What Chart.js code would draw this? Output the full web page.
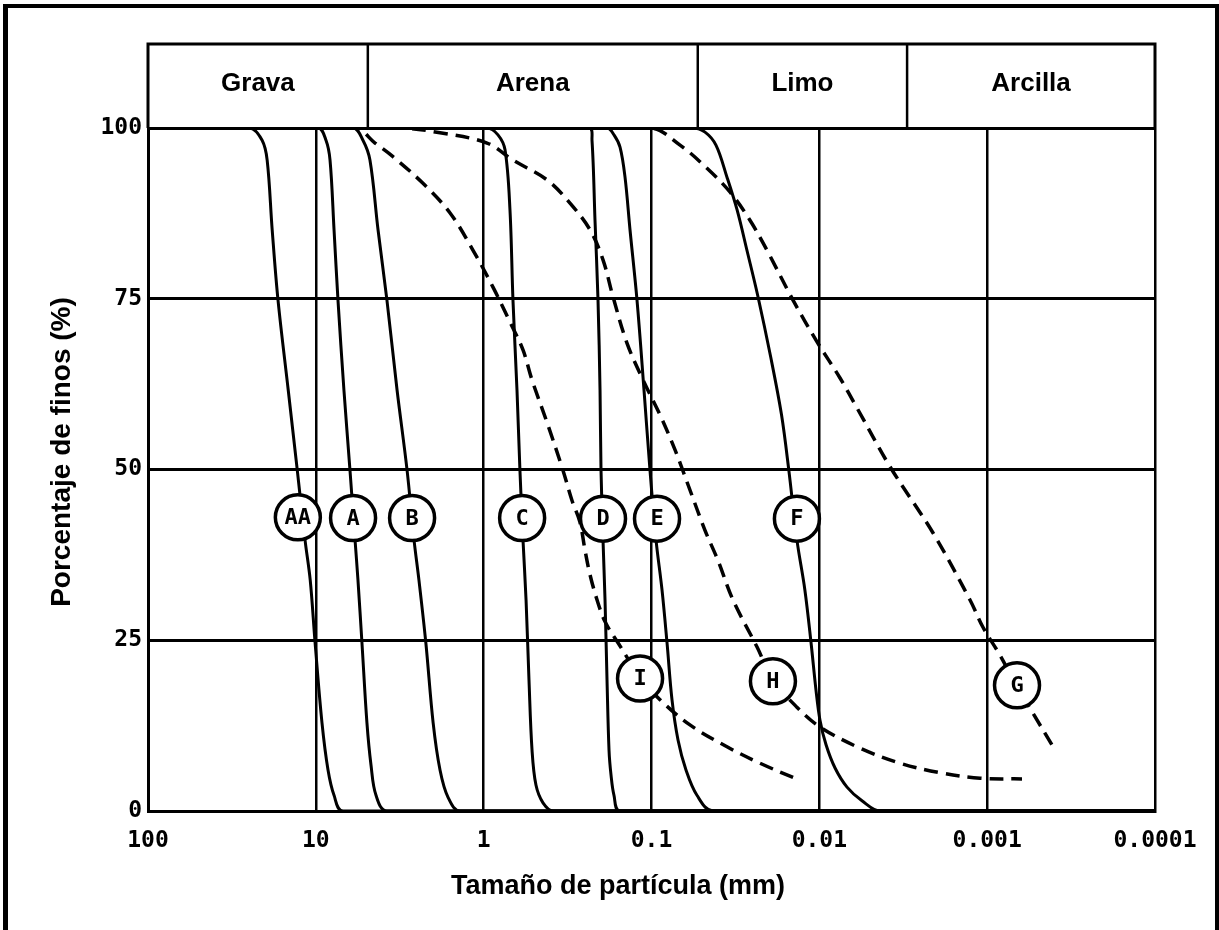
<!DOCTYPE html>
<html>
<head>
<meta charset="utf-8">
<script src="https://cdn.jsdelivr.net/npm/chart.js@4.4.1/dist/chart.umd.min.js"></script>
<style>
  html, body { margin: 0; padding: 0; background: #fff; }
  #wrap { position: relative; width: 1219px; height: 930px; }
</style>
</head>
<body>
<div id="wrap"><canvas id="chart" width="1219" height="930"></canvas></div>
<script>
// axis ticks
const xTicks = [100, 10, 1, 0.1, 0.01, 0.001, 0.0001];
const xTickLabels = ['100', '10', '1', '0.1', '0.01', '0.001', '0.0001'];
const yTicks = [0, 25, 50, 75, 100];

// soil classes across the top (limits in mm)
const bandNames = ['Grava', 'Arena', 'Limo', 'Arcilla'];
const bandLimits = [100, 4.9, 0.053, 0.003, 0.0001];

// grading curves: particle size (mm) and percent passing
const sizeAA = [100, 24.7, 20.9, 19.5, 18.2, 16.8, 14.6, 12.9, 11.6, 10.8, 10.1, 9.19, 8.46, 7.79, 6.89, 0.0001];
const pctAA  = [100, 100, 98.2, 95.3, 85.1, 74.8, 61.6, 49.9, 39.7, 33.8, 24.6, 12.9, 6.0, 2.3, 0, 0];

const sizeA = [100, 9.71, 8.70, 8.23, 7.79, 7.38, 6.80, 6.26, 5.84, 5.61, 5.31, 4.96, 4.69, 4.38, 3.77, 0.0001];
const pctA  = [100, 100, 98.2, 95.3, 85.1, 74.8, 61.6, 49.9, 39.7, 33.8, 24.6, 12.9, 6.7, 2.3, 0, 0];

const sizeB = [100, 6.00, 5.24, 4.76, 4.26, 3.77, 3.28, 2.86, 2.60, 2.43, 2.21, 2.00, 1.82, 1.63, 1.38, 0.0001];
const pctB  = [100, 100, 98.2, 95.3, 85.1, 74.8, 61.6, 49.9, 39.7, 33.8, 24.6, 12.9, 6.0, 2.0, 0, 0];

const sizeC = [100, 0.955, 0.822, 0.746, 0.697, 0.669, 0.633, 0.608, 0.583, 0.559, 0.537, 0.515, 0.488, 0.443, 0.386, 0.0001];
const pctC  = [100, 100, 99.0, 96.8, 88.0, 74.8, 61.6, 49.9, 39.7, 30.9, 19.2, 8.9, 3.8, 1.2, 0, 0];

const sizeD = [100, 0.2356, 0.2262, 0.2171, 0.2083, 0.2026, 0.1999, 0.1945, 0.1892, 0.1841, 0.1791, 0.1743, 0.1673, 0.1540, 0.0001];
const pctD  = [100, 100, 98.2, 86.5, 74.8, 61.6, 49.9, 39.7, 30.9, 19.2, 8.9, 5.3, 2.3, 0, 0];

const sizeE = [100, 0.1841, 0.1673, 0.1540, 0.1438, 0.1343, 0.1220, 0.1108, 0.1021, 0.0940, 0.0866, 0.0808, 0.0755, 0.0695, 0.0623, 0.0536, 0.0430, 0.0001];
const pctE  = [100, 100, 99.0, 97.2, 92.8, 85.1, 74.8, 61.6, 49.9, 39.7, 32.4, 24.6, 16.3, 10.4, 6.0, 2.3, 0, 0];

const sizeF = [100, 0.0566, 0.0480, 0.0413, 0.0355, 0.0309, 0.0270, 0.0232, 0.0195, 0.0168, 0.0152, 0.0136, 0.0122, 0.0112, 0.01047, 0.00991, 0.00912, 0.00806, 0.00684, 0.00557, 0.00435, 0.0001];
const pctF  = [100, 100, 99.4, 97.5, 92.8, 88.0, 82.1, 75.3, 66.5, 58.0, 49.9, 39.7, 32.4, 24.6, 17.7, 13.3, 9.7, 6.3, 3.5, 1.5, 0, 0];

// dashed curves
const sizeG = [100, 0.1021, 0.0676, 0.0467, 0.0340, 0.0259, 0.0205, 0.01435, 0.01032, 0.00753, 0.00596, 0.00379, 0.00210, 0.001265, 0.001059, 0.000838, 0.000664, 0.000533, 0.000405];
const pctG  = [100, 100, 97.5, 94.1, 90.6, 86.5, 82.1, 74.8, 68.7, 63.4, 59.0, 50.4, 40.7, 30.9, 26.9, 22.8, 18.2, 14.3, 9.4];

const sizeH = [100, 3.15, 1.82, 0.955, 0.669, 0.419, 0.306, 0.2325, 0.1945, 0.1696, 0.140, 0.1123, 0.0890, 0.0725, 0.0590, 0.0480, 0.0402, 0.0327, 0.0235, 0.0189, 0.0136, 0.00991, 0.00572, 0.00331, 0.00191, 0.00110, 0.000620];
const pctH  = [100, 100, 99.3, 97.8, 95.3, 92.4, 89.0, 85.1, 80.7, 75.3, 68.5, 63.1, 58.0, 52.9, 47.0, 41.1, 36.7, 30.9, 24.0, 19.2, 15.2, 12.3, 9.2, 7.0, 5.6, 4.8, 4.7];

const sizeI = [100, 5.84, 4.44, 3.47, 2.30, 1.59, 1.157, 0.880, 0.697, 0.583, 0.515, 0.414, 0.337, 0.298, 0.267, 0.249, 0.2325, 0.211, 0.189, 0.158, 0.117, 0.0890, 0.0590, 0.0355, 0.0226, 0.0140];
const pctI  = [100, 100, 97.8, 95.8, 91.9, 87.6, 82.1, 76.7, 71.6, 67.5, 63.1, 56.5, 49.9, 45.5, 42.3, 38.2, 34.6, 30.9, 27.7, 24.6, 19.6, 16.3, 12.6, 9.4, 7.0, 4.8];

// circled curve names
const labelNames = ['AA', 'A', 'B', 'C', 'D', 'E', 'F', 'I', 'H', 'G'];
const labelSizes = [12.8, 6.0, 2.67, 0.59, 0.1945, 0.0927, 0.0136, 0.117, 0.0189, 0.000664];
const labelPcts  = [43.0, 42.9, 42.9, 42.9, 42.8, 42.8, 42.8, 19.4, 19.0, 18.4];

const tickFont = { family: '"DejaVu Sans Mono", monospace', size: 23, weight: 'bold' };
const textFont = '"Liberation Sans", Arial, sans-serif';

function curve(sizes, pcts, dashed) {
  return {
    data: sizes.map((s, i) => ({ x: s, y: pcts[i] })),
    borderColor: '#000',
    borderWidth: dashed ? 3.5 : 3,
    borderDash: dashed ? [14, 8] : [],
    pointRadius: 0,
    fill: false,
    tension: 0.35
  };
}

const datasets = [
  curve(sizeAA, pctAA, false),
  curve(sizeA, pctA, false),
  curve(sizeB, pctB, false),
  curve(sizeC, pctC, false),
  curve(sizeD, pctD, false),
  curve(sizeE, pctE, false),
  curve(sizeF, pctF, false),
  curve(sizeG, pctG, true),
  curve(sizeH, pctH, true),
  curve(sizeI, pctI, true)
];

// header band, circled labels, titles and page frame
const sheet = {
  id: 'sheet',
  afterDraw(chart) {
    const { ctx, chartArea: a, scales: { x, y } } = chart;
    ctx.save();
    ctx.strokeStyle = '#000';
    ctx.fillStyle = '#000';

    // class band above the plot
    const bandTop = a.top - 84;
    ctx.lineWidth = 3;
    ctx.beginPath();
    ctx.moveTo(a.left, a.top);
    ctx.lineTo(a.left, bandTop);
    ctx.lineTo(a.right, bandTop);
    ctx.lineTo(a.right, a.top);
    ctx.stroke();
    ctx.lineWidth = 2.5;
    for (let i = 1; i < bandLimits.length - 1; i++) {
      const px = x.getPixelForValue(bandLimits[i]);
      ctx.beginPath();
      ctx.moveTo(px, bandTop);
      ctx.lineTo(px, a.top);
      ctx.stroke();
    }
    ctx.font = 'bold 26px ' + textFont;
    ctx.textAlign = 'center';
    ctx.textBaseline = 'middle';
    for (let i = 0; i < bandNames.length; i++) {
      const x0 = x.getPixelForValue(bandLimits[i]);
      const x1 = x.getPixelForValue(bandLimits[i + 1]);
      ctx.fillText(bandNames[i], (x0 + x1) / 2, bandTop + 40);
    }

    // circled labels
    ctx.font = 'bold 22px "DejaVu Sans Mono", monospace';
    ctx.lineWidth = 3.5;
    labelNames.forEach((name, i) => {
      const px = x.getPixelForValue(labelSizes[i]);
      const py = y.getPixelForValue(labelPcts[i]);
      ctx.beginPath();
      ctx.arc(px, py, 22.5, 0, Math.PI * 2);
      ctx.fillStyle = '#fff';
      ctx.fill();
      ctx.stroke();
      ctx.fillStyle = '#000';
      ctx.fillText(name, px, py + 1);
    });

    // axis titles
    ctx.font = 'bold 27px ' + textFont;
    ctx.fillText('Tamaño de partícula (mm)', 618, 887);
    ctx.save();
    ctx.translate(62, 452);
    ctx.rotate(-Math.PI / 2);
    ctx.font = 'bold 28px ' + textFont;
    ctx.fillText('Porcentaje de finos (%)', 0, 0);
    ctx.restore();

    // page frame (open at the bottom)
    ctx.fillRect(3, 4, 5, 926);
    ctx.fillRect(3, 4, 1216, 4);
    ctx.fillRect(1215, 4, 4, 926);
    ctx.restore();
  }
};

new Chart(document.getElementById('chart'), {
  type: 'line',
  data: { datasets },
  options: {
    responsive: false,
    animation: false,
    events: [],
    layout: { padding: { top: 128, right: 64, bottom: 0, left: 0 } },
    plugins: { legend: { display: false }, tooltip: { enabled: false } },
    scales: {
      x: {
        type: 'logarithmic',
        reverse: true,
        min: 0.0001,
        max: 100,
        afterBuildTicks: s => { s.ticks = xTicks.map(v => ({ value: v })); },
        afterFit: s => { s.height = 119; },
        ticks: {
          autoSkip: false,
          maxRotation: 0,
          padding: 16,
          color: '#000',
          font: tickFont,
          callback: v => xTickLabels[xTicks.indexOf(v)]
        },
        grid: { color: '#000', lineWidth: 2.5, drawTicks: false },
        border: { color: '#000', width: 3 }
      },
      y: {
        min: 0,
        max: 100,
        afterBuildTicks: s => { s.ticks = yTicks.map(v => ({ value: v })); },
        afterFit: s => { s.width = 148; },
        ticks: { padding: 6, color: '#000', font: tickFont },
        grid: { color: '#000', lineWidth: 3, drawTicks: false },
        border: { color: '#000', width: 3 }
      }
    }
  },
  plugins: [sheet]
});
</script>
</body>
</html>
